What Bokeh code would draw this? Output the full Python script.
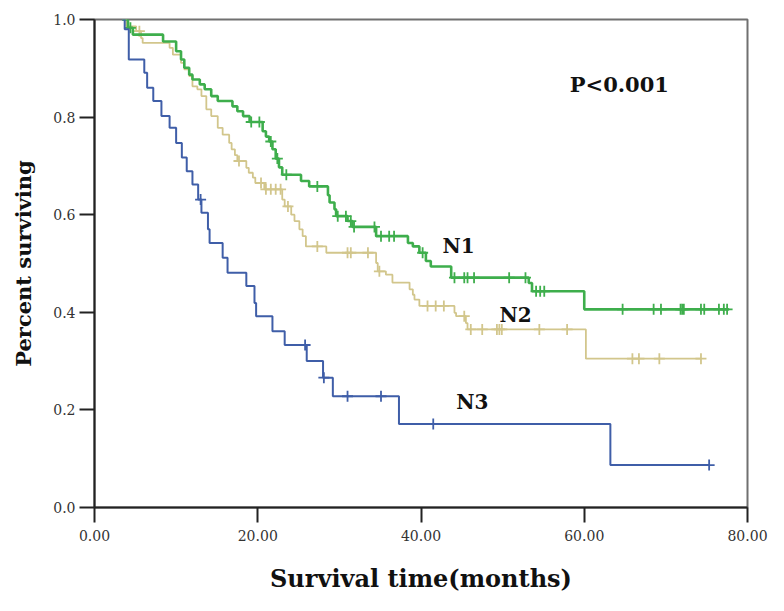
import numpy as np
from bokeh.plotting import figure
from bokeh.models import FixedTicker, Range1d, Label, NumeralTickFormatter
from bokeh.embed import file_html
from bokeh.resources import INLINE

# ---------------- data ----------------
x_ticks = [0, 20, 40, 60, 80]
y_ticks = [0.0, 0.2, 0.4, 0.6, 0.8, 1.0]

n1_times = [3.4, 4.1, 4.7, 8.4, 10.0, 10.6, 11.0, 11.6, 12.0, 12.9, 13.5, 14.3, 15.1,
            16.9, 17.5, 18.2, 19.0, 20.6, 21.0, 21.4, 21.8, 22.2, 22.6, 23.0, 25.3,
            26.3, 28.6, 28.8, 29.4, 29.6, 31.0, 31.6, 34.5, 38.4, 39.0, 39.8, 40.6,
            41.2, 43.7, 53.2, 53.6, 60.0]
n1_surv = [1.0, 0.983, 0.969, 0.955, 0.935, 0.918, 0.901, 0.887, 0.877, 0.867, 0.857,
           0.843, 0.833, 0.822, 0.812, 0.802, 0.790, 0.771, 0.760, 0.750, 0.734, 0.715,
           0.697, 0.682, 0.669, 0.658, 0.640, 0.625, 0.611, 0.597, 0.587, 0.575, 0.556,
           0.542, 0.535, 0.522, 0.505, 0.494, 0.471, 0.460, 0.443, 0.406]
n1_end = 77.7
n1_censor = [4.4, 19.2, 20.2, 21.6, 22.4, 23.5, 27.3, 29.8, 30.8, 31.4, 31.8, 34.3, 35.1,
             36.1, 36.7, 40.2, 44.1, 45.3, 45.7, 46.5, 50.8, 52.8, 54.1, 54.6, 55.1,
             64.7, 68.5, 69.4, 71.8, 72.0, 72.2, 74.3, 74.7, 76.5, 77.1, 77.5]

n2_times = [3.4, 3.9, 5.1, 5.7, 5.9, 9.2, 9.6, 10.6, 11.0, 11.6, 12.0, 12.6, 13.1, 13.7,
            14.3, 15.1, 15.7, 16.5, 16.8, 17.2, 17.5, 18.6, 18.9, 19.4, 19.7, 20.8,
            23.0, 23.3, 24.1, 24.5, 25.1, 25.5, 25.9, 28.4, 34.5, 34.7, 35.7, 36.5,
            38.6, 39.0, 39.2, 39.8, 44.1, 44.3, 45.5, 45.7, 60.2]
n2_surv = [1.0, 0.986, 0.976, 0.962, 0.952, 0.942, 0.928, 0.911, 0.898, 0.884, 0.863,
           0.857, 0.843, 0.816, 0.802, 0.778, 0.764, 0.747, 0.734, 0.722, 0.710, 0.696,
           0.686, 0.676, 0.665, 0.652, 0.631, 0.617, 0.600, 0.587, 0.570, 0.556, 0.535,
           0.522, 0.501, 0.484, 0.477, 0.461, 0.447, 0.436, 0.426, 0.413, 0.399, 0.392,
           0.378, 0.365, 0.305]
n2_end = 74.3
n2_censor = [5.5, 17.7, 20.4, 21.0, 21.6, 22.2, 22.8, 23.7, 27.3, 31.0, 31.4, 33.5, 34.9,
             40.8, 41.8, 42.8, 45.3, 46.1, 47.5, 49.3, 49.6, 49.9, 54.5, 57.9, 65.9,
             66.7, 69.2, 74.3]

n3_times = [3.4, 3.7, 4.2, 6.1, 6.45, 7.2, 8.2, 9.2, 10.0, 10.7, 11.3, 12.0, 12.7, 13.1,
            13.9, 14.1, 15.7, 16.3, 18.6, 19.6, 19.8, 21.8, 23.3, 26.0, 28.0, 29.2,
            37.3, 63.2]
n3_surv = [1.0, 0.98, 0.918, 0.891, 0.860, 0.833, 0.802, 0.778, 0.747, 0.717, 0.689,
           0.662, 0.631, 0.604, 0.570, 0.542, 0.512, 0.481, 0.454, 0.419, 0.392, 0.361,
           0.333, 0.300, 0.266, 0.228, 0.171, 0.087]
n3_end = 75.3
n3_censor = [13.0, 25.8, 28.1, 31.0, 35.1, 41.5, 75.3]

group_names = ["N1", "N2", "N3"]
p_text = "P<0.001"

# ---------------- helpers ----------------
def step_xy(times, surv, end):
    return list(times) + [end], list(surv) + [surv[-1]]

def censor_y(times, surv, cens):
    idx = np.searchsorted(np.array(times), np.array(cens), side="right") - 1
    return list(np.array(surv)[idx])

FONT = "DejaVu Serif"

# ---------------- figure ----------------
p = figure(width=768, height=595, x_range=Range1d(0, 80), y_range=Range1d(0, 1.0),
           output_backend="svg", toolbar_location=None,
           min_border_left=94, min_border_right=21, min_border_top=19, min_border_bottom=88)
p.xgrid.visible = False
p.ygrid.visible = False
p.background_fill_color = "white"
p.outline_line_color = "#707070"
p.outline_line_width = 2

colors = {"N1": "#3eae4c", "N2": "#d2c68c", "N3": "#3f5ea8"}
widths = {"N1": 2.6, "N2": 1.8, "N3": 2.0}
series = {"N2": (n2_times, n2_surv, n2_end, n2_censor),
          "N1": (n1_times, n1_surv, n1_end, n1_censor),
          "N3": (n3_times, n3_surv, n3_end, n3_censor)}
for name in ["N2", "N1", "N3"]:
    t, s, e, c = series[name]
    xs, ys = step_xy(t, s, e)
    p.step(xs, ys, mode="after", line_color=colors[name], line_width=widths[name])
    p.scatter(c, censor_y(t, s, c), marker="cross", size=11,
              line_color=colors[name], line_width=1.8)

for ax in (p.xaxis, p.yaxis):
    ax.axis_line_color = "#222222"
    ax.axis_line_width = 2
    ax.major_tick_line_color = "#222222"
    ax.major_tick_line_width = 2
    ax.major_tick_out = 15
    ax.major_tick_in = 0
    ax.minor_tick_line_color = None
    ax.major_label_text_font = FONT
    ax.major_label_text_font_size = "14px"
    ax.major_label_text_color = "#333333"
    ax.axis_label_text_font = FONT
    ax.axis_label_text_font_style = "bold"
    ax.axis_label_text_color = "#111111"

p.xaxis.ticker = FixedTicker(ticks=x_ticks)
p.yaxis.ticker = FixedTicker(ticks=y_ticks)
p.xaxis.formatter = NumeralTickFormatter(format="0.00")
p.yaxis.formatter = NumeralTickFormatter(format="0.0")
p.xaxis.axis_label = "Survival time(months)"
p.yaxis.axis_label = "Percent surviving"
p.xaxis.axis_label_text_font_size = "24px"
p.yaxis.axis_label_text_font_size = "21px"
p.xaxis.major_label_standoff = 7
p.xaxis.axis_label_standoff = 20
p.yaxis.major_label_standoff = 4
p.yaxis.axis_label_standoff = 14

label_pos = {"N1": (44.6, 0.535), "N2": (51.6, 0.395), "N3": (46.3, 0.217)}
for name in group_names:
    x, y = label_pos[name]
    p.add_layout(Label(x=x, y=y, text=name, text_font=FONT,
                       text_font_style="bold", text_font_size="20px",
                       text_align="center", text_baseline="middle", text_color="#111111"))
p.add_layout(Label(x=64.3, y=0.866, text=p_text, text_font=FONT,
                   text_font_style="bold", text_font_size="21px",
                   text_align="center", text_baseline="middle", text_color="#111111"))

open("out.html", "w").write(file_html(p, INLINE))
